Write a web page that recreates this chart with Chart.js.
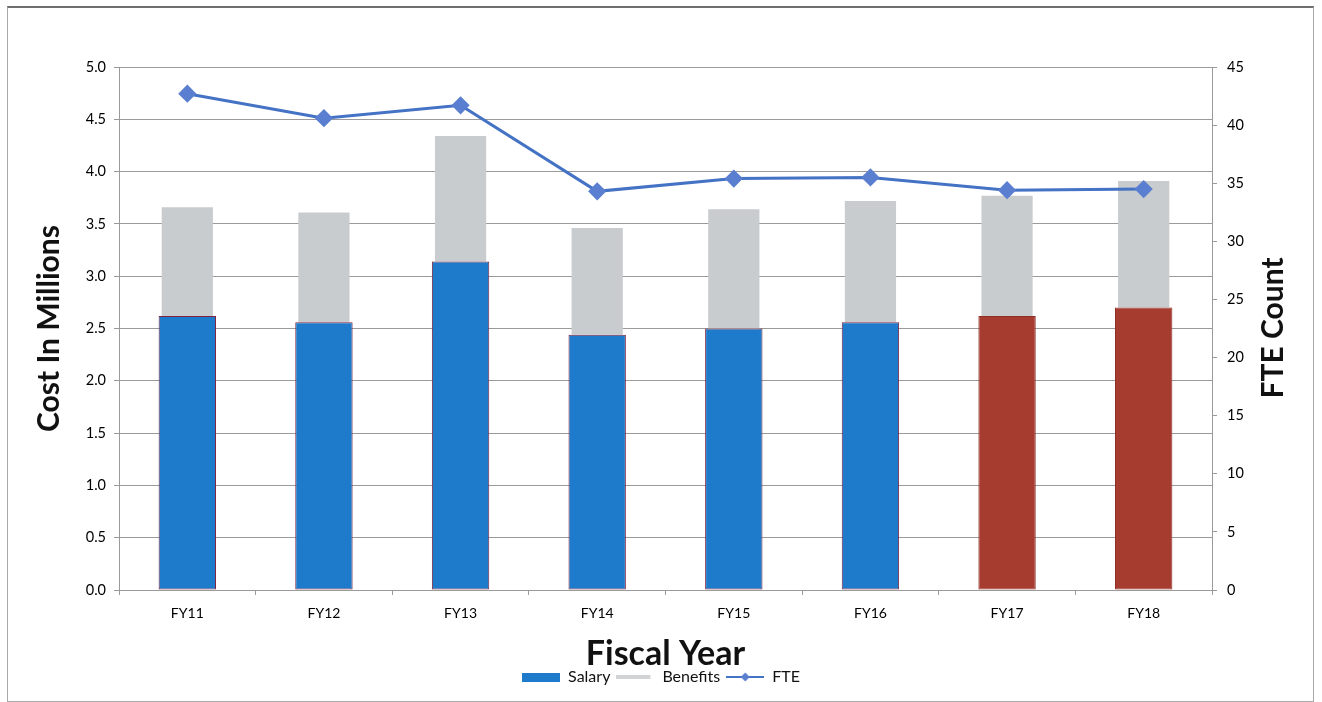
<!DOCTYPE html>
<html>
<head>
<meta charset="utf-8">
<title>Salary, Benefits and FTE by Fiscal Year</title>
<script src="https://cdn.jsdelivr.net/npm/chart.js@4.4.1/dist/chart.umd.min.js"></script>
<style>
  html, body { margin: 0; padding: 0; background: #fff; }
  #wrap { position: relative; width: 1322px; height: 702px; }
  #costChart { position: absolute; left: 0; top: 0; }
  #frame {
    position: absolute; left: 7px; top: 6px; width: 1305px; height: 693px;
    border: 1px solid #a9a9a9; border-top: 2px solid #6f6f6f;
    pointer-events: none;
  }
</style>
</head>
<body>
<div id="wrap">
  <canvas id="costChart" width="1322" height="702"></canvas>
  <div id="frame"></div>
</div>
<script>
// Cost in millions of dollars and FTE headcount per fiscal year
const fiscalYears = ['FY11', 'FY12', 'FY13', 'FY14', 'FY15', 'FY16', 'FY17', 'FY18'];
const salaryCost = [2.62, 2.56, 3.14, 2.44, 2.50, 2.56, 2.62, 2.70];
const benefitsCost = [1.04, 1.05, 1.20, 1.02, 1.14, 1.16, 1.15, 1.21];
const fteCount = [42.7, 40.6, 41.7, 34.3, 35.4, 35.5, 34.4, 34.5];
const projectedYears = ['FY17', 'FY18'];

const FONT = 'Lato, "Open Sans", sans-serif';
const BLUE = '#1e7bcb';
const RED = '#a63b2f';
const GRAY = '#c9cccf';
const LINE = '#4472c4';
const GRID = '#9a9a9a';

const salaryColors = fiscalYears.map(fy => projectedYears.includes(fy) ? RED : BLUE);
const salaryBorders = fiscalYears.map(fy => projectedYears.includes(fy) ? '#8e2f26' : '#7d2440');

// small images used as legend swatches
function swatch(draw) {
    const c = document.createElement('canvas');
    c.width = 38;
    c.height = 12;
    draw(c.getContext('2d'));
    return c;
}
const salarySwatch = swatch(ctx => {
    ctx.fillStyle = BLUE;
    ctx.fillRect(0, 2, 38, 9);
});
const benefitsSwatch = swatch(ctx => {
    ctx.fillStyle = '#d2d3d5';
    ctx.fillRect(0, 4, 34, 4);
});
const fteSwatch = swatch(ctx => {
    ctx.strokeStyle = LINE;
    ctx.lineWidth = 2;
    ctx.beginPath();
    ctx.moveTo(0, 6);
    ctx.lineTo(38, 6);
    ctx.stroke();
    ctx.fillStyle = '#5b7fd0';
    ctx.beginPath();
    ctx.moveTo(19, 1.5);
    ctx.lineTo(23.5, 6);
    ctx.lineTo(19, 10.5);
    ctx.lineTo(14.5, 6);
    ctx.closePath();
    ctx.fill();
});

// right axis title reads bottom-to-top like the left one
const rightTitle = {
    id: 'rightTitle',
    afterDraw(chart) {
        const ctx = chart.ctx;
        ctx.save();
        ctx.translate(1273, 328);
        ctx.rotate(-Math.PI / 2);
        ctx.font = 'bold 30px ' + FONT;
        ctx.fillStyle = '#111';
        ctx.textAlign = 'center';
        ctx.textBaseline = 'middle';
        ctx.fillText('FTE Count', 0, 0);
        ctx.restore();
    }
};

const ctx = document.getElementById('costChart').getContext('2d');
new Chart(ctx, {
    data: {
        labels: fiscalYears,
        datasets: [
            {
                type: 'bar',
                label: 'Salary',
                data: salaryCost,
                backgroundColor: salaryColors,
                borderColor: salaryBorders,
                borderWidth: 1,
                borderSkipped: false,
                barPercentage: 0.42,
                categoryPercentage: 1,
                yAxisID: 'y',
                stack: 'cost',
                order: 1
            },
            {
                type: 'bar',
                label: 'Benefits',
                data: benefitsCost,
                backgroundColor: GRAY,
                borderWidth: 0,
                barPercentage: 0.375,
                categoryPercentage: 1,
                yAxisID: 'y',
                stack: 'cost',
                order: 1
            },
            {
                type: 'line',
                label: 'FTE',
                data: fteCount,
                borderColor: LINE,
                borderWidth: 3,
                pointStyle: 'rectRot',
                pointRadius: 7,
                pointBackgroundColor: '#5b7fd0',
                pointBorderColor: '#5b7fd0',
                tension: 0,
                yAxisID: 'y1',
                order: 0
            }
        ]
    },
    options: {
        responsive: false,
        animation: false,
        layout: {
            padding: { top: 67, left: 0, right: 0, bottom: 7 }
        },
        plugins: {
            tooltip: { enabled: false },
            legend: {
                position: 'bottom',
                labels: {
                    usePointStyle: true,
                    pointStyleWidth: 38,
                    padding: 6,
                    color: '#111',
                    font: { family: FONT, size: 16 },
                    generateLabels: (chart) => {
                        const styles = [salarySwatch, benefitsSwatch, fteSwatch];
                        return chart.data.datasets.map((ds, i) => ({
                            text: ds.label,
                            pointStyle: styles[i],
                            fillStyle: 'transparent',
                            strokeStyle: 'transparent',
                            lineWidth: 0,
                            hidden: false,
                            datasetIndex: i,
                            fontColor: '#111'
                        }));
                    }
                }
            }
        },
        scales: {
            x: {
                stacked: true,
                grid: {
                    display: true,
                    drawOnChartArea: false,
                    offset: true,
                    tickLength: 5,
                    color: GRID
                },
                border: { color: GRID },
                ticks: {
                    color: '#000',
                    padding: 10,
                    font: { family: FONT, size: 14 }
                },
                title: {
                    display: true,
                    text: 'Fiscal Year',
                    color: '#111',
                    padding: { top: 0, bottom: -8 },
                    font: { family: FONT, size: 34, weight: 'bold', lineHeight: 1 }
                },
                afterFit: (scale) => {
                    const lg = scale.chart.legend;
                    scale.height = scale.chart.height - 590 - 7 - (lg ? lg.height : 0);
                }
            },
            y: {
                position: 'left',
                stacked: true,
                min: 0,
                max: 5,
                grid: { color: GRID, tickLength: 5 },
                border: { color: GRID },
                ticks: {
                    stepSize: 0.5,
                    padding: 8,
                    color: '#000',
                    font: { family: FONT, size: 14.5 },
                    callback: (v) => v.toFixed(1)
                },
                title: {
                    display: true,
                    text: 'Cost In Millions',
                    color: '#111',
                    padding: { top: 34, bottom: 0 },
                    font: { family: FONT, size: 30, weight: 'bold', lineHeight: 1 }
                },
                afterFit: (scale) => { scale.width = 119; }
            },
            y1: {
                position: 'right',
                min: 0,
                max: 45,
                grid: { drawOnChartArea: false, tickLength: 5, color: GRID },
                border: { color: GRID },
                ticks: {
                    stepSize: 5,
                    padding: 10,
                    color: '#000',
                    font: { family: FONT, size: 14.5 }
                },
                afterFit: (scale) => { scale.width = 110; }
            }
        }
    },
    plugins: [rightTitle]
});
</script>
</body>
</html>
